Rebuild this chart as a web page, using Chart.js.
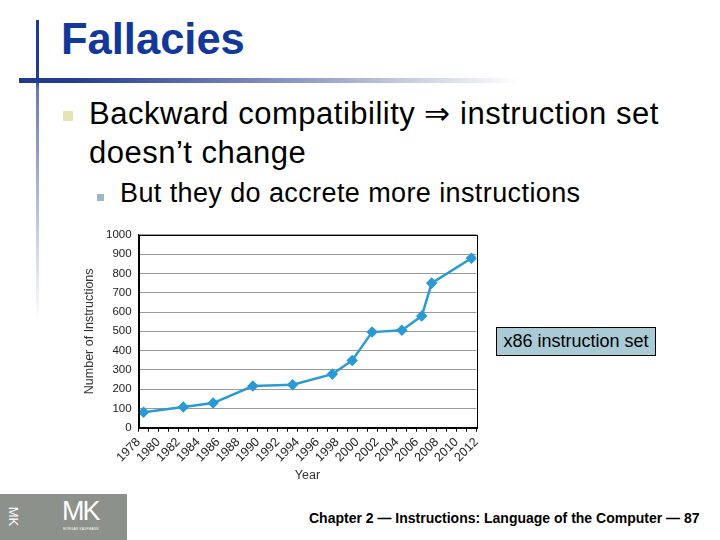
<!DOCTYPE html>
<html>
<head>
<meta charset="utf-8">
<script src="https://cdn.jsdelivr.net/npm/chart.js@4/dist/chart.umd.min.js"></script>
<style>
  body { margin: 0; width: 720px; height: 540px; background: #fff; position: relative; overflow: hidden;
         font-family: "Liberation Sans", Arial, sans-serif; }
  .abs { position: absolute; white-space: nowrap; }
  #vline { left: 36px; top: 20px; width: 3px; height: 300px;
           background: linear-gradient(to bottom, #1f3c8f 0px, #1f3c8f 58px, #6a7bb5 70px, #ffffff 300px); }
  #hline { left: 19px; top: 78px; width: 500px; height: 5px;
           background: linear-gradient(to right, #1f3c8f 0%, #1f3c8f 10%, #8c98c4 55%, #ffffff 100%); }
  #title { left: 61px; top: 17px; font-size: 43.5px; line-height: 44px; font-weight: bold; color: #12399a; }
  .bullet1 { left: 63px; top: 111px; width: 10px; height: 10px; background: #e6e4b3; }
  #line1 { left: 89px; top: 94px; font-size: 31px; line-height: 39px; letter-spacing: 0.5px; color: #000; }
  .bullet2 { left: 97px; top: 194px; width: 7px; height: 7px; background: #9fb6c6; }
  #line2 { left: 120px; top: 180px; font-size: 27px; line-height: 27px; letter-spacing: 0.4px; color: #000; }
  #box { left: 496px; top: 327px; width: 158px; height: 27px; background: #a8cbd6; border: 1px solid #000;
         font-size: 18px; line-height: 27px; text-align: center; }
  #logo { left: 0px; top: 494px; width: 127px; height: 46px; background: #8d918b; color: #fff; }
  #mk { left: 62px; top: 4px; font-size: 27px; line-height: 27px; letter-spacing: -2px; }
  #mkside { left: 4px; top: 15px; font-size: 13px; transform: rotate(90deg); }
  #mksub { left: 63px; top: 33px; font-size: 3px; letter-spacing: 0.3px; }
  #footer { left: 309px; top: 510px; font-size: 14px; font-weight: bold; color: #000; }
  #wrap { left: 80px; top: 221px; width: 410px; height: 264px; }
</style>
</head>
<body>
<div id="vline" class="abs"></div>
<div id="hline" class="abs"></div>
<div id="title" class="abs">Fallacies</div>
<div class="abs bullet1"></div>
<div id="line1" class="abs">Backward compatibility &rArr; instruction set<br>doesn’t change</div>
<div class="abs bullet2"></div>
<div id="line2" class="abs">But they do accrete more instructions</div>
<div id="wrap" class="abs"><canvas id="chart"></canvas></div>
<div id="box" class="abs">x86 instruction set</div>
<div id="logo" class="abs">
  <div id="mkside" class="abs">MK</div>
  <div id="mk" class="abs">MK</div>
  <div id="mksub" class="abs">MORGAN KAUFMANN</div>
</div>
<div id="footer" class="abs">Chapter 2 — Instructions: Language of the Computer — 87</div>

<script>
// x86 instruction count by year of introduction
const years = [1978, 1982, 1985, 1989, 1993, 1997, 1999, 2001, 2004, 2006, 2007, 2011];
const counts = [80, 107, 128, 216, 223, 278, 349, 496, 506, 579, 750, 879];
const yTicks = [0, 100, 200, 300, 400, 500, 600, 700, 800, 900, 1000];

const blue = "#2a9ad6";

// thin frame round the plot area
const frame = {
  id: "frame",
  afterDraw(chart) {
    const a = chart.chartArea;
    const ctx = chart.ctx;
    ctx.save();
    ctx.strokeStyle = "#000";
    ctx.lineWidth = 1;
    ctx.strokeRect(Math.round(a.left) + 0.5, Math.round(a.top) + 0.5,
                   Math.round(a.right - a.left), Math.round(a.bottom - a.top));
    ctx.restore();
  },
};

new Chart(document.getElementById("chart"), {
  type: "line",
  data: {
    datasets: [{
      // each point sits in the middle of its year
      data: years.map((y, i) => ({ x: y + 0.5, y: counts[i] })),
      borderColor: blue,
      backgroundColor: blue,
      borderWidth: 2.5,
      pointStyle: "rectRot",
      pointRadius: 4,
      tension: 0,
    }],
  },
  options: {
    responsive: true,
    maintainAspectRatio: false,
    animation: false,
    plugins: { legend: { display: false }, tooltip: { enabled: false } },
    layout: { padding: { top: 0, right: 12, left: 0, bottom: 2 } },
    scales: {
      x: {
        type: "linear",
        min: 1978,
        max: 2012,
        grid: { drawOnChartArea: false, color: "#000", tickLength: 4 },
        border: { color: "#000" },
        ticks: {
          stepSize: 1,
          autoSkip: false,
          maxRotation: 45,
          minRotation: 45,
          color: "#222",
          font: { family: "Liberation Sans", size: 12.5 },
          callback: (v) => (v % 2 === 0 ? String(v) : ""),
        },
        title: { display: true, text: "Year", color: "#333", font: { family: "Liberation Sans", size: 12.5 }, padding: 0 },
      },
      y: {
        min: 0,
        max: 1000,
        afterBuildTicks: (s) => { s.ticks = yTicks.map((v) => ({ value: v })); },
        grid: { color: "#999", drawTicks: false },
        border: { color: "#000" },
        ticks: { color: "#222", padding: 7, font: { family: "Liberation Sans", size: 11.5 }, callback: (v) => String(v) },
        title: { display: true, text: "Number of Instructions", color: "#333", font: { family: "Liberation Sans", size: 12.5 }, padding: 2 },
      },
    },
  },
  plugins: [frame],
});
</script>
</body>
</html>
